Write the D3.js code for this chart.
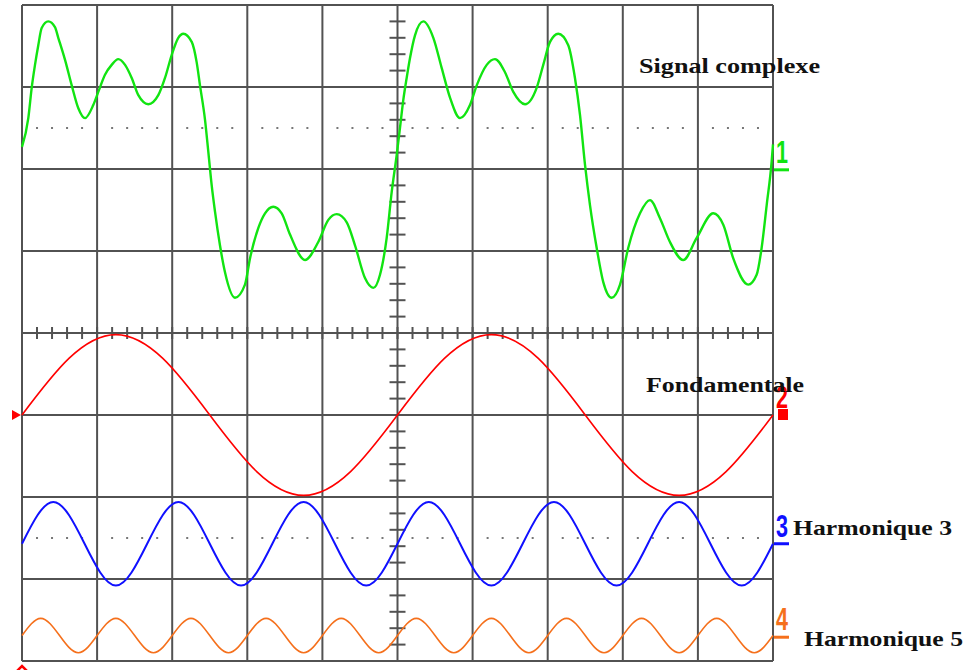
<!DOCTYPE html>
<html>
<head>
<meta charset="utf-8">
<script src="https://cdn.jsdelivr.net/npm/d3@7"></script>
<style>
  html, body { margin: 0; padding: 0; background: #fff; }
  svg { display: block; }
  .label { font-family: "Liberation Serif", "DejaVu Serif", serif; font-weight: bold; fill: #111; }
  .chan { font-family: "Liberation Sans", Arial, sans-serif; font-weight: bold; }
</style>
</head>
<body>
<div id="scope"></div>
<script>
// Screen is 10 x 8 divisions. Times and values are in divisions.

// Channel 1 : signal complexe
const greenT = [0, 0.084, 0.129, 0.173, 0.217, 0.262, 0.35, 0.439, 0.483, 0.573, 0.662, 0.75, 0.839, 0.949,
	1.016, 1.105, 1.194, 1.282, 1.372, 1.461, 1.549, 1.682, 1.815, 1.904, 1.993, 2.081, 2.148, 2.26, 2.326,
	2.37, 2.437, 2.481, 2.526, 2.57, 2.636, 2.703, 2.836, 2.969, 3.036, 3.146, 3.236, 3.346, 3.458, 3.569,
	3.768, 3.945, 4.079, 4.191, 4.324, 4.434, 4.567, 4.678, 4.767, 4.856, 4.923, 4.989,
	5.033, 5.077, 5.122, 5.166, 5.233, 5.344, 5.477, 5.589, 5.699, 5.832, 5.965, 6.055, 6.188, 6.298, 6.431,
	6.542, 6.698, 6.853, 6.941, 7.031, 7.141, 7.274, 7.363, 7.43, 7.497, 7.563, 7.652, 7.74, 7.852, 7.963,
	8.073, 8.229, 8.362, 8.495, 8.628, 8.805, 8.984, 9.205, 9.338, 9.471, 9.671, 9.782, 9.849, 9.916, 9.982, 10];
const greenV = [2.27, 2.62, 2.99, 3.27, 3.51, 3.72, 3.8, 3.73, 3.6, 3.33, 3.02, 2.74, 2.62, 2.78,
	2.94, 3.15, 3.27, 3.34, 3.27, 3.11, 2.9, 2.79, 2.9, 3.11, 3.39, 3.6, 3.65, 3.55, 3.3,
	3.02, 2.6, 2.21, 1.8, 1.48, 1.07, 0.74, 0.43, 0.59, 0.91, 1.28, 1.46, 1.54, 1.46, 1.2,
	0.89, 1.11, 1.38, 1.45, 1.35, 1.07, 0.67, 0.55, 0.71, 1.16, 1.72, 2.17,
	2.5, 2.84, 3.11, 3.35, 3.63, 3.8, 3.6, 3.23, 2.87, 2.62, 2.78, 3.02, 3.27, 3.34, 3.18,
	2.94, 2.79, 2.99, 3.27, 3.55, 3.65, 3.51, 3.11, 2.66, 2.05, 1.56, 1.04, 0.62, 0.43, 0.59,
	1.04, 1.46, 1.62, 1.4, 1.11, 0.89, 1.16, 1.46, 1.32, 0.91, 0.59, 0.71, 1.04, 1.56, 2.09, 2.3];

// Channel 2 : fondamentale
const redT = [0, 0.625, 1.25, 1.875, 2.5, 3.125, 3.75, 4.375, 5, 5.625, 6.25, 6.875, 7.5, 8.125, 8.75, 9.375, 10];
const redV = [-1.0, -0.31, -0.02, -0.31, -1.0, -1.69, -1.98, -1.69, -1.0, -0.31, -0.02, -0.31, -1.0, -1.69, -1.98, -1.69, -1.0];

// Channel 3 : harmonique 3
const blueT = d3.range(25).map(k => k * 5 / 12);
const blueV = [-2.57, -2.06, -2.57, -3.08, -2.57, -2.06, -2.57, -3.08, -2.57, -2.06, -2.57, -3.08, -2.57,
	-2.06, -2.57, -3.08, -2.57, -2.06, -2.57, -3.08, -2.57, -2.06, -2.57, -3.08, -2.57];

// Channel 4 : harmonique 5
const orangeT = d3.range(41).map(k => k * 0.25);
const orangeV = [-3.69, -3.48, -3.69, -3.9, -3.69, -3.48, -3.69, -3.9, -3.69, -3.48, -3.69, -3.9,
	-3.69, -3.48, -3.69, -3.9, -3.69, -3.48, -3.69, -3.9, -3.69, -3.48, -3.69, -3.9,
	-3.69, -3.48, -3.69, -3.9, -3.69, -3.48, -3.69, -3.9, -3.69, -3.48, -3.69, -3.9,
	-3.69, -3.48, -3.69, -3.9, -3.69];

const chanNames = ['1', '2', '3', '4'];
const chanLevels = [1.99, -1.0, -2.57, -3.71];
const chanColors = ['#11e411', '#ff0000', '#1010ff', '#f5701c'];
const labels = ['Signal complexe', 'Fondamentale', 'Harmonique 3', 'Harmonique 5'];

const width = 970, height = 670;
const svg = d3.select('#scope').append('svg')
	.attr('width', width)
	.attr('height', height);

const x = d3.scaleLinear().domain([0, 10]).range([22, 773]);
const y = d3.scaleLinear().domain([-4, 4]).range([661, 5]);

const gridColor = '#525252';

// dotted reference rows
[2.5, -2.5].forEach(lvl => {
	svg.append('g').selectAll('rect')
		.data(d3.range(0, 10, 0.2).filter(t => Math.abs(t - Math.round(t)) > 0.01))
		.enter()
		.append('rect')
			.attr('x', d => x(d) - 1)
			.attr('y', y(lvl) - 1)
			.attr('width', 2)
			.attr('height', 2)
			.style('fill', '#777');
});

// Grid
const grid = svg.append('g').classed('grid', true);
grid.selectAll('line.v')
	.data(d3.range(0, 11))
	.enter()
	.append('line')
		.attr('x1', d => x(d)).attr('x2', d => x(d))
		.attr('y1', y(4)).attr('y2', y(-4))
		.style('stroke', gridColor)
		.style('stroke-width', 2);
grid.selectAll('line.h')
	.data(d3.range(-4, 5))
	.enter()
	.append('line')
		.attr('x1', x(0)).attr('x2', x(10))
		.attr('y1', d => y(d)).attr('y2', d => y(d))
		.style('stroke', gridColor)
		.style('stroke-width', 2);

// Minor ticks on the centre axes
grid.selectAll('line.tx')
	.data(d3.range(0, 10.01, 0.2))
	.enter()
	.append('line')
		.attr('x1', d => x(d)).attr('x2', d => x(d))
		.attr('y1', y(0) - 6).attr('y2', y(0) + 6)
		.style('stroke', gridColor)
		.style('stroke-width', 2);
grid.selectAll('line.ty')
	.data(d3.range(-4, 4.01, 0.2))
	.enter()
	.append('line')
		.attr('x1', x(5) - 8).attr('x2', x(5) + 8)
		.attr('y1', d => y(d)).attr('y2', d => y(d))
		.style('stroke', gridColor)
		.style('stroke-width', 2);

// Traces
const traces = [
	{T: greenT, V: greenV, curve: d3.curveMonotoneX, w: 2.4},
	{T: redT, V: redV, curve: d3.curveNatural, w: 1.6},
	{T: blueT, V: blueV, curve: d3.curveNatural, w: 2},
	{T: orangeT, V: orangeV, curve: d3.curveNatural, w: 1.6}
];

traces.forEach((tr, i) => {
	const line = d3.line()
		.x(d => x(d[0]))
		.y(d => y(d[1]))
		.curve(tr.curve);
	svg.append('path')
		.datum(d3.zip(tr.T, tr.V))
		.attr('d', line)
		.style('fill', 'none')
		.style('stroke', chanColors[i])
		.style('stroke-width', tr.w)
		.style('stroke-linejoin', 'round');
});

// Channel markers on the right
chanNames.forEach((name, i) => {
	const yy = y(chanLevels[i]);
	svg.append('text')
		.classed('chan', true)
		.attr('x', 776)
		.attr('y', yy - 7)
		.attr('textLength', 12)
		.attr('lengthAdjust', 'spacingAndGlyphs')
		.style('font-size', '31px')
		.style('fill', chanColors[i])
		.text(name);
	if (i === 1) {
		svg.append('rect')
			.attr('x', 778).attr('y', yy - 6)
			.attr('width', 10).attr('height', 11)
			.style('fill', chanColors[i]);
	} else {
		svg.append('line')
			.attr('x1', 774).attr('x2', 789)
			.attr('y1', yy).attr('y2', yy)
			.style('stroke', chanColors[i])
			.style('stroke-width', 3);
	}
});

// red trigger markers
svg.append('path')
	.attr('d', `M12,${y(-1) - 5}L21,${y(-1)}L12,${y(-1) + 5}Z`)
	.style('fill', '#ff0000');
svg.append('path')
	.attr('d', `M${x(0) - 7},${y(-4) + 12}L${x(0)},${y(-4) + 5}L${x(0) + 7},${y(-4) + 12}`)
	.style('fill', 'none')
	.style('stroke', '#ff0000')
	.style('stroke-width', 2.5);

// Labels
const labelPos = [[639, 73, 181], [646, 392, 158], [793, 535, 159], [804, 646, 159]];
labels.forEach((txt, i) => {
	svg.append('text')
		.classed('label', true)
		.attr('x', labelPos[i][0])
		.attr('y', labelPos[i][1])
		.attr('textLength', labelPos[i][2])
		.attr('lengthAdjust', 'spacingAndGlyphs')
		.style('font-size', '21px')
		.text(txt);
});
</script>
</body>
</html>
